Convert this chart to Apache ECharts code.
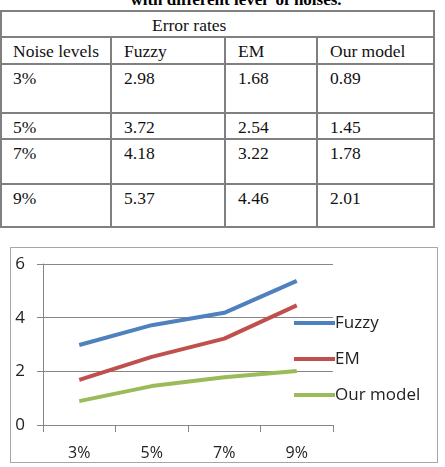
<!DOCTYPE html>
<html>
<head>
<meta charset="utf-8">
<script src="https://cdn.jsdelivr.net/npm/echarts@6/dist/echarts.min.js"></script>
<style>
  body { margin: 0; background: #fff; width: 445px; height: 467px; overflow: hidden; position: relative; }
  #cap { position: absolute; left: 0; width: 472px; top: -10px; text-align: center;
         font: bold 17px "Liberation Serif", serif; color: #000; white-space: pre; }
  #tbl { position: absolute; left: 0; top: 10px; border-collapse: collapse; table-layout: fixed;
         font: 17.5px "Liberation Serif", serif; color: #111; }
  #tbl td { border: 2px solid #808080; padding: 3px 0 0 11px; vertical-align: top; overflow: hidden; white-space: nowrap; }
  #main { position: absolute; left: 10px; top: 247px; width: 426px; height: 214px; border: 1px solid #a6a6a6; }
</style>
</head>
<body>
<div id="cap">with different level  of noises.</div>
<table id="tbl"></table>
<div id="main"></div>
<script>
// 噪声水平与三种方法的错误率
var categories = ['3%', '5%', '7%', '9%'];
var fuzzy = [2.98, 3.72, 4.18, 5.37];
var em = [1.68, 2.54, 3.22, 4.46];
var ours = [0.89, 1.45, 1.78, 2.01];
var seriesNames = ['Fuzzy', 'EM', 'Our model'];

// table above the chart, built from the same arrays
var colW = [110, 114, 92, 117];
var rowH = [25, 27, 49, 24, 45, 43];
var tbl = document.getElementById('tbl');
var html = '<colgroup>';
colW.forEach(function (w) { html += '<col style="width:' + w + 'px">'; });
html += '</colgroup>';
html += '<tr style="height:' + rowH[0] + 'px"><td colspan="4" style="padding-left:150px">Error rates</td></tr>';
html += '<tr style="height:' + rowH[1] + 'px"><td>Noise levels</td>';
seriesNames.forEach(function (n) { html += '<td style="padding-left:12px">' + n + '</td>'; });
html += '</tr>';
categories.forEach(function (c, i) {
  html += '<tr style="height:' + rowH[i + 2] + 'px"><td>' + c + '</td>';
  [fuzzy, em, ours].forEach(function (s) {
    html += '<td style="padding-left:12px">' + s[i].toFixed(2) + '</td>';
  });
  html += '</tr>';
});
tbl.innerHTML = html;

var myChart = echarts.init(document.getElementById('main'));

var font = '"Open Sans", sans-serif';
var option = {
  animation: false,
  color: ['#4F81BD', '#C0504D', '#9BBB59'],
  textStyle: { fontFamily: font },
  grid: { left: 32, top: 16, right: 104, bottom: 37 },
  legend: {
    orient: 'vertical',
    left: 278,
    top: 60,
    icon: 'rect',
    itemWidth: 41,
    itemHeight: 4,
    itemGap: 16,
    textStyle: { fontSize: 17, color: '#222', fontFamily: font, lineHeight: 20, padding: [0, 0, 0, -5] },
    data: seriesNames
  },
  xAxis: {
    type: 'category',
    data: categories,
    boundaryGap: true,
    axisLine: { lineStyle: { color: '#868686' } },
    axisTick: { show: true, length: 7, lineStyle: { color: '#868686' } },
    axisLabel: { color: '#222', fontSize: 16, margin: 20, fontFamily: font }
  },
  yAxis: {
    type: 'value',
    min: 0,
    max: 6,
    interval: 2,
    axisLine: { show: true, lineStyle: { color: '#868686' } },
    axisTick: { show: true, length: 6, lineStyle: { color: '#868686' } },
    axisLabel: { color: '#222', fontSize: 17, margin: 18, fontFamily: font },
    splitLine: { lineStyle: { color: '#868686' } }
  },
  series: [
    { name: seriesNames[0], type: 'line', data: fuzzy, symbol: 'none', lineStyle: { width: 4 } },
    { name: seriesNames[1], type: 'line', data: em, symbol: 'none', lineStyle: { width: 4 } },
    { name: seriesNames[2], type: 'line', data: ours, symbol: 'none', lineStyle: { width: 4 } }
  ]
};

myChart.setOption(option);
</script>
</body>
</html>
